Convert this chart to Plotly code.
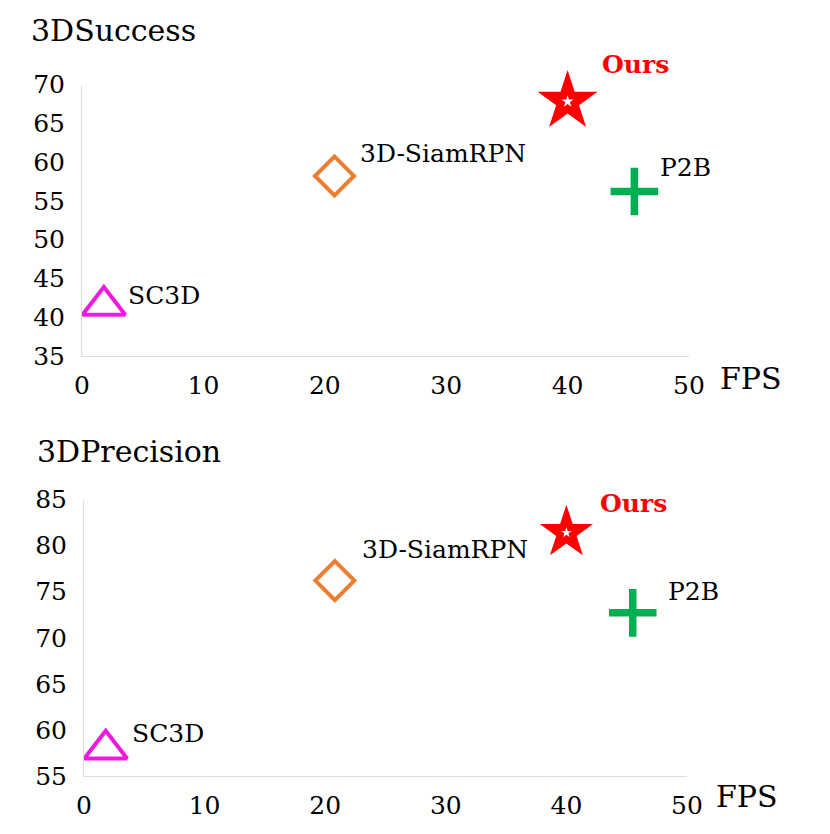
import plotly.graph_objects as go

# values
methods = ["SC3D", "3D-SiamRPN", "P2B", "Ours"]
fps = [1.8, 20.8, 45.5, 40.0]
success = [41.5, 58.2, 56.2, 67.8]
precision = [57.9, 76.2, 72.7, 81.4]

W, H = 830, 834
FONT = "DejaVu Serif"

# marker look per method
styles = {
    "SC3D": dict(symbol="triangle-up-open", size=37, color="#F01ADC", line=dict(width=4, color="#F01ADC")),
    "3D-SiamRPN": dict(symbol="diamond-open", size=30, color="#ED7D31", line=dict(width=4, color="#ED7D31")),
    "P2B": dict(symbol="cross-thin-open", size=34, color="#00B050", line=dict(width=7.5, color="#00B050")),
    "Ours": dict(symbol="star", size=45, color="#FF0000", line=dict(width=0)),
}

# panel definitions: axis box in px, titles, label offsets
panels = [
    dict(vals=success, yrange=[35, 70], box=(82, 689, 84.5, 356), title="3DSuccess",
         title_xy=(29, 31), fps_xy=(718, 378), star=45, inner=9,
         offs={"SC3D": (22, 10), "3D-SiamRPN": (23, 23), "P2B": (24, 24), "Ours": (32, 37)}),
    dict(vals=precision, yrange=[55, 85], box=(84, 687, 499.5, 776), title="3DPrecision",
         title_xy=(35, 451), fps_xy=(714, 796), star=40, inner=8,
         offs={"SC3D": (24, 16), "3D-SiamRPN": (25, 31), "P2B": (33, 21), "Ours": (32, 29)}),
]

fig = go.Figure()
annotations = []

for i, p in enumerate(panels):
    sfx = "" if i == 0 else str(i + 1)
    xa, ya = "x" + sfx, "y" + sfx
    for m, fx, v in zip(methods, fps, p["vals"]):
        st = dict(styles[m])
        if m == "Ours":
            st["size"] = p["star"]
        fig.add_trace(go.Scatter(x=[fx], y=[v], mode="markers", marker=st, cliponaxis=False,
                                 xaxis=xa, yaxis=ya, hoverinfo="skip"))
        if m == "Ours":
            # small white star in the middle of the red one
            fig.add_trace(go.Scatter(x=[fx], y=[v], mode="markers", cliponaxis=False,
                                     marker=dict(symbol="star", size=p["inner"], color="white", line=dict(width=0)),
                                     xaxis=xa, yaxis=ya, hoverinfo="skip"))
        dx, dy = p["offs"][m]
        annotations.append(dict(
            x=fx, y=v, xref=xa, yref=ya, text=f"<b>{m}</b>" if m == "Ours" else m,
            showarrow=False, xanchor="left", yanchor="middle", xshift=dx, yshift=dy,
            font=dict(family=FONT, size=25, color="#FF0000" if m == "Ours" else "black"),
        ))

    x0, x1, ytop, ybot = p["box"]
    axis_common = dict(showline=True, linecolor="#DDDDDD", linewidth=1, showgrid=False,
                       zeroline=False, ticks="", automargin=False,
                       tickfont=dict(family=FONT, size=25, color="black"))
    fig.layout["xaxis" + sfx] = dict(axis_common, domain=[x0 / W, x1 / W], range=[0, 50], dtick=10,
                                     anchor=ya, ticklabelstandoff=7)
    fig.layout["yaxis" + sfx] = dict(axis_common, domain=[1 - ybot / H, 1 - ytop / H], range=p["yrange"],
                                     dtick=5, anchor=xa, ticklabelstandoff=11)

    tx, ty = p["title_xy"]
    annotations.append(dict(x=tx / W, y=1 - ty / H, xref="paper", yref="paper", text=p["title"],
                            showarrow=False, xanchor="left", yanchor="middle",
                            font=dict(family=FONT, size=30, color="black")))
    fx_, fy_ = p["fps_xy"]
    annotations.append(dict(x=fx_ / W, y=1 - fy_ / H, xref="paper", yref="paper", text="FPS",
                            showarrow=False, xanchor="left", yanchor="middle",
                            font=dict(family=FONT, size=30, color="black")))

fig.update_layout(
    template="none",
    width=W, height=H,
    margin=dict(l=0, r=0, t=0, b=0, autoexpand=False),
    paper_bgcolor="white", plot_bgcolor="white",
    showlegend=False,
    annotations=annotations,
)

fig.write_html("out.html", config={"displayModeBar": False},
               post_script="document.body.style.margin='0';")
